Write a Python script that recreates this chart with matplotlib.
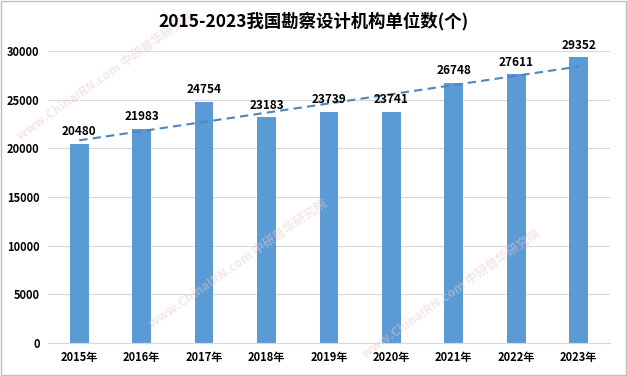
import matplotlib
matplotlib.use("Agg")
import matplotlib.pyplot as plt
import numpy as np

plt.rcParams["font.family"] = ["Noto Sans CJK SC", "DejaVu Sans"]

years = ["2015年", "2016年", "2017年", "2018年", "2019年",
         "2020年", "2021年", "2022年", "2023年"]
counts = [20480, 21983, 24754, 23183, 23739, 23741, 26748, 27611, 29352]
title = "2015-2023我国勘察设计机构单位数(个)"

BAR = "#5B9BD5"
TREND = "#4A86C0"

fig = plt.figure(figsize=(6.27, 3.76), dpi=100)
ax = fig.add_axes([0.0766, 0.088, 0.896, 0.776])

x = np.arange(len(years))
ax.bar(x, counts, width=0.3, color=BAR, zorder=2)
for xi, v in zip(x, counts):
    ax.text(xi, v + 600, str(v), ha="center", va="bottom",
            fontsize=8.5, fontweight="bold", color="black", zorder=4)

# linear trendline
k, b = np.polyfit(x, counts, 1)
ax.plot(x, k * x + b, ls=(0, (4, 2.5)), lw=1.5, color=TREND, zorder=3)

ax.set_xlim(-0.5, len(years) - 0.5)
ax.set_ylim(0, 30000)
ax.set_yticks(range(0, 30001, 5000))
ax.set_xticks(x, years)
ax.tick_params(axis="both", length=0, labelsize=8, pad=6)
for lab in ax.get_xticklabels() + ax.get_yticklabels():
    lab.set_fontweight("bold")
ax.grid(axis="y", color="#D9D9D9", lw=0.8, zorder=0)
for s in ("top", "right", "left"):
    ax.spines[s].set_visible(False)
ax.spines["bottom"].set_color("#D9D9D9")

fig.text(0.5, 0.945, title, ha="center", va="center",
         fontsize=12.5, fontweight="bold")

# faint watermarks
for wx, wy in [(0.17, 0.80), (0.38, 0.30), (0.72, 0.22)]:
    fig.text(wx, wy, "www.ChinaIRN.com 中研普华研究院", rotation=35,
             ha="center", va="center", fontsize=9, fontweight="bold",
             color="#E8C8C8", alpha=0.45, zorder=1)

fig.patches.append(plt.Rectangle((0.002, 0.003), 0.996, 0.994,
                                 transform=fig.transFigure, fill=False,
                                 edgecolor="#BFBFBF", lw=1))

fig.savefig("out.png", dpi=100, facecolor="white")
